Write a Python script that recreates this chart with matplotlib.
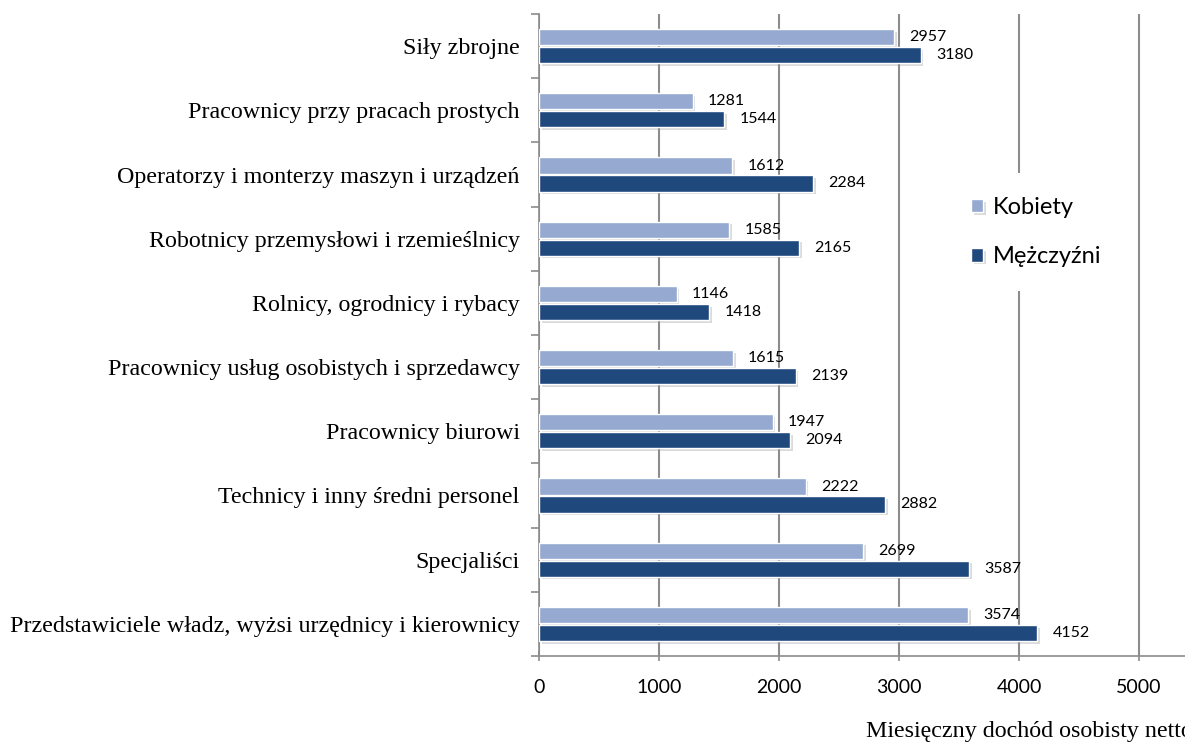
import matplotlib
matplotlib.use("Agg")
import matplotlib.pyplot as plt
import matplotlib.patheffects as pe
import numpy as np

categories = [
    "Przedstawiciele władz, wyżsi urzędnicy i kierownicy",
    "Specjaliści",
    "Technicy i inny średni personel",
    "Pracownicy biurowi",
    "Pracownicy usług osobistych i sprzedawcy",
    "Rolnicy, ogrodnicy i rybacy",
    "Robotnicy przemysłowi i rzemieślnicy",
    "Operatorzy i monterzy maszyn i urządzeń",
    "Pracownicy przy pracach prostych",
    "Siły zbrojne",
]
kobiety = [3574, 2699, 2222, 1947, 1615, 1146, 1585, 1612, 1281, 2957]
mezczyzni = [4152, 3587, 2882, 2094, 2139, 1418, 2165, 2284, 1544, 3180]
xticks = [0, 1000, 2000, 3000, 4000, 5000]

c_k = "#95A9D1"
c_m = "#1F497D"
grid_c = "#8c8c8c"
num_font = ["Lato", "DejaVu Sans"]
serif_font = ["Liberation Serif", "DejaVu Serif"]

fig = plt.figure(figsize=(11.85, 7.42), dpi=100)
ax = fig.add_axes([539/1185, 1-656/742, 1-539/1185, (656-14)/742])

y = np.arange(len(categories))
shadow = [pe.SimplePatchShadow(offset=(2, -2), shadow_rgbFace="#999999", alpha=0.35), pe.Normal()]
bk = ax.barh(y + 0.14, kobiety, height=0.25, color=c_k, edgecolor="white", linewidth=1,
             label="Kobiety", zorder=3)
bm = ax.barh(y - 0.14, mezczyzni, height=0.25, color=c_m, edgecolor="white", linewidth=1,
             label="Mężczyźni", zorder=3)
for b in list(bk) + list(bm):
    b.set_path_effects(shadow)

for yi, v in zip(y, kobiety):
    ax.annotate(str(v), (v, yi + 0.14), xytext=(11, 0), textcoords="offset points",
                ha="left", va="center", fontsize=11.5, family=num_font, zorder=4)
for yi, v in zip(y, mezczyzni):
    ax.annotate(str(v), (v, yi - 0.14), xytext=(11, 0), textcoords="offset points",
                ha="left", va="center", fontsize=11.5, family=num_font, zorder=4)

ax.set_xlim(0, (1185-539)/120*1000)
ax.set_ylim(-0.5, len(categories) - 0.5)
ax.set_xticks(xticks)
ax.set_xticklabels([str(t) for t in xticks], fontsize=14, family=num_font)
ax.set_yticks(y)
ax.set_yticklabels(categories, fontsize=17.3, family=serif_font)
ax.set_yticks(np.arange(len(categories) + 1) - 0.5, minor=True)
ax.tick_params(axis="y", which="major", length=0, pad=14)
ax.tick_params(axis="y", which="minor", length=6, width=1.2, color=grid_c)
ax.tick_params(axis="x", length=7, width=1.2, color=grid_c, pad=13, direction="inout")

ax.grid(axis="x", color=grid_c, linewidth=1.5, zorder=0)
ax.set_axisbelow(True)
for s in ["top", "right"]:
    ax.spines[s].set_visible(False)
for s in ["left", "bottom"]:
    ax.spines[s].set_color(grid_c)
    ax.spines[s].set_linewidth(1.2)

leg = ax.legend(loc="center left", bbox_to_anchor=(936/1185, 1-232/742),
                bbox_transform=fig.transFigure, frameon=True, framealpha=1,
                edgecolor="none", facecolor="white", fancybox=False,
                handlelength=0.5, handleheight=0.5, handletextpad=0.4,
                labelspacing=1.2, borderpad=1.0,
                prop={"family": num_font, "size": 17})
leg.set_zorder(5)

# the axis title runs off the right edge in the original too
fig.text(866/1185, 1-731/742, "Miesięczny dochód osobisty netto", fontsize=17.3,
         family=serif_font, ha="left", va="center")

fig.savefig("out.png", dpi=100)
